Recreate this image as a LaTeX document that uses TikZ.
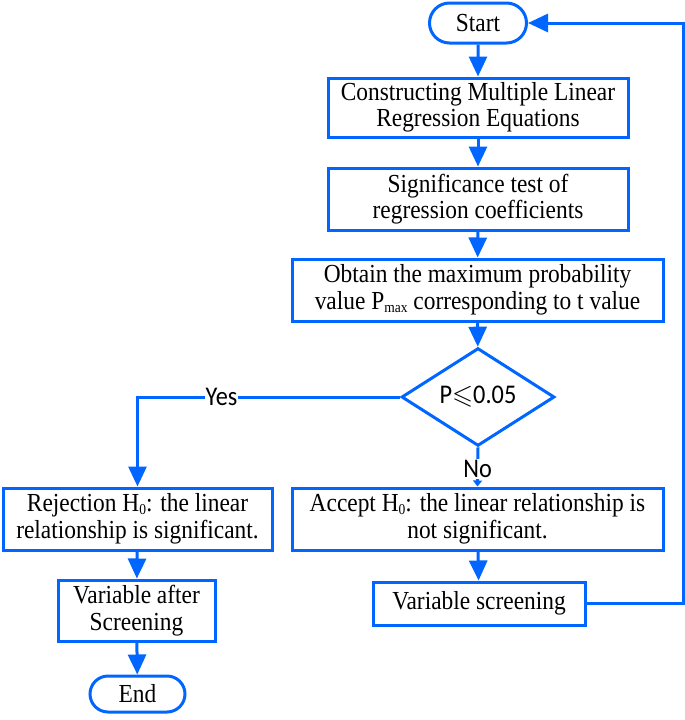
\documentclass[tikz,border=0pt]{standalone}
\usepackage{amssymb}
\usepackage{fontspec}
\setmainfont{Liberation Serif}[FakeStretch=0.9]
\newfontfamily\labfont{Carlito}[FakeStretch=0.9]
\usetikzlibrary{shapes.geometric,shapes.misc,arrows.meta}
\definecolor{fblue}{RGB}{0,102,255}
\tikzset{
  box/.style={draw=fblue, line width=3pt, rectangle, align=center, inner sep=0pt,
    font=\fontsize{26}{26.5}\selectfont},
  term/.style={draw=fblue, line width=3pt, rounded rectangle, inner sep=0pt,
    font=\fontsize{26}{26.5}\selectfont},
  dec/.style={draw=fblue, line width=3pt, diamond, inner sep=0pt,
    minimum width=153pt, minimum height=93pt, font=\labfont\fontsize{27}{27}\selectfont},
  conn/.style={draw=fblue, line width=3pt, -{Triangle[width=18pt,length=20pt]}},
  lab/.style={fill=white, inner sep=1pt, font=\labfont\fontsize{27}{27}\selectfont}
}
\newcommand{\lowsub}[1]{\raisebox{-0.25ex}{\fontsize{15}{15}\selectfont #1}}
\begin{document}
\begin{tikzpicture}[x=1pt,y=-1pt]
\useasboundingbox (0,0) rectangle (685,720);
\node[term, minimum width=97pt, minimum height=40pt] (start) at (478,23) {Start};
\node[box, minimum width=300pt, minimum height=59pt] (b1) at (478,107.5) {Constructing Multiple Linear\\Regression Equations};
\node[box, minimum width=300pt, minimum height=62pt] (b2) at (478,199) {Significance test of\\regression coefficients};
\node[box, minimum width=371pt, minimum height=62pt] (b3) at (477.5,290) {Obtain the maximum probability\\value P\lowsub{max} corresponding to t value};
\node[dec] (dia) at (478,397) {P$\leqslant$0.05};
\node[box, minimum width=269pt, minimum height=62pt] (rej) at (137.5,519) {Rejection H\lowsub{0}: the linear\\relationship is significant.};
\node[box, minimum width=371pt, minimum height=62pt] (acc) at (477.5,519) {Accept H\lowsub{0}: the linear relationship is\\not significant.};
\node[box, minimum width=157pt, minimum height=61pt] (vas) at (136.5,610.5) {Variable after\\Screening};
\node[term, minimum width=95pt, minimum height=36pt] (endn) at (137.5,694) {End};
\node[box, minimum width=212pt, minimum height=43pt] (vs) at (479,603.5) {Variable screening};
\coordinate (loopb) at (683,603.5);
\coordinate (yescorner) at (137.5,397);

\draw[conn] (start) -- (b1);
\draw[conn] (b1) -- (b2);
\draw[conn] (b2) -- (b3);
\draw[conn] (b3) -- (dia);
\draw[conn] (dia.west) -- node[lab, pos=0.68] {Yes} (yescorner) -- (rej.north);
\draw[draw=fblue, line width=3pt, -{Triangle[width=9pt,length=6pt]}] (dia.south) -- node[lab, pos=0.55] {No} (acc.north);
\draw[conn] (acc) -- (vs);
\draw[conn] (rej) -- (vas);
\draw[conn] (vas) -- (endn);
\draw[conn] (vs.east) -- (loopb) |- (start.east);
\end{tikzpicture}
\end{document}
